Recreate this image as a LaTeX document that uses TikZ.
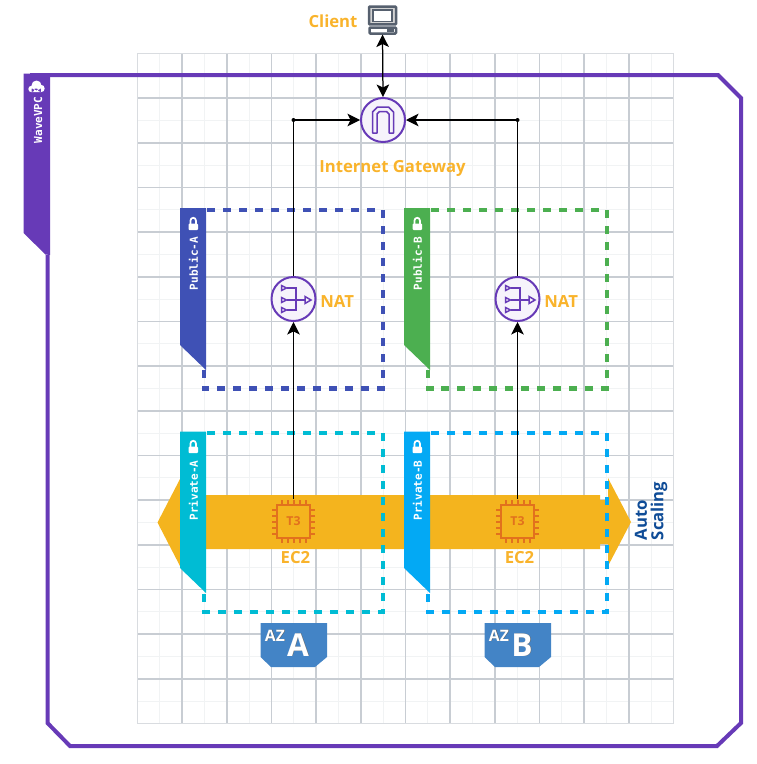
\documentclass[tikz,border=0pt]{standalone}
\usepackage{fontspec}
\setmainfont{Open Sans}
\newfontfamily\tabfont{DejaVu Sans Mono}
\usetikzlibrary{arrows.meta}
\definecolor{vpcpurple}{HTML}{673AB7}
\definecolor{pubA}{HTML}{3F51B5}
\definecolor{pubB}{HTML}{4CAF50}
\definecolor{privA}{HTML}{00BCD4}
\definecolor{privB}{HTML}{03A9F4}
\definecolor{gold}{HTML}{F4B41E}
\definecolor{labelgold}{HTML}{F9B32B}
\definecolor{chipline}{HTML}{E2711D}
\definecolor{azblue}{HTML}{4384C6}
\definecolor{scaleblue}{HTML}{0F4C97}
\definecolor{gridmajor}{HTML}{C8CDD3}
\definecolor{gridminor}{HTML}{F1F3F4}
\definecolor{roundfill}{HTML}{F6F3FB}
\definecolor{pcgrey}{HTML}{56606E}

\begin{document}
\begin{tikzpicture}[line cap=butt,line join=miter,x=0.02cm,y=-0.02cm,
	>={Stealth[length=0.25cm,width=0.25cm,inset=0.06cm]},
	conn/.style={->,line width=0.025cm,color=black},
	service/.style={circle,draw=vpcpurple,fill=roundfill,line width=0.04cm,minimum size=0.88cm,inner sep=0pt},
	chip/.style={rectangle,draw=chipline,line width=0.05cm,minimum size=0.66cm,inner sep=0pt,outer sep=0.12cm,font=\bfseries\fontsize{7}{7}\selectfont,text=chipline},
	goldlabel/.style={font=\bfseries\fontsize{9.5}{9.5}\selectfont,text=labelgold,inner sep=0pt},
	scalelabel/.style={rotate=90,anchor=west,inner sep=0pt,font=\bfseries\fontsize{9.5}{9.5}\selectfont,text=scaleblue},
	tabtext/.style={rotate=90,font=\tabfont\bfseries\fontsize{6.3}{6.3}\selectfont,text=white,inner sep=0pt},
	subnet/.style={dashed,dash pattern=on 0.16cm off 0.16cm,line width=0.085cm},
	iconline/.style={draw=vpcpurple,line width=0.03cm}]
	\useasboundingbox (0,0) rectangle (757,764);
	%%%% GRID
	\foreach \i in {0,...,24}
		\draw[color=gridminor,line width=0.02cm] ({137.5+22.333*\i},53.5) -- ({137.5+22.333*\i},723.5);
	\foreach \j in {0,...,30}
		\draw[color=gridminor,line width=0.02cm] (137.5,{53.5+22.333*\j}) -- (673.5,{53.5+22.333*\j});
	\foreach \i in {1,...,11}
		\draw[color=gridmajor,line width=0.03cm] ({137.5+44.667*\i},53.5) -- ({137.5+44.667*\i},723.5);
	\foreach \j in {1,...,14}
		\draw[color=gridmajor,line width=0.03cm] (137.5,{53.5+44.667*\j}) -- (673.5,{53.5+44.667*\j});
	\draw[color=gridmajor!70,line width=0.03cm] (137.5,53.5) rectangle (673.5,723.5);

	%%%% VPC
	\draw[color=vpcpurple,line width=0.08cm] (47.5,255) -- (47.5,723) -- (70,746) -- (717,746) -- (741,723) -- (741,98) -- (718,75) -- (30,75);
	\fill[color=vpcpurple] (23.5,73.5) -- (50,73.5) -- (50,255) -- (45.5,254.5) -- (23.5,233) -- cycle;
	\fill[white] (31.5,89) circle (3.2) (36.5,85.5) circle (5) (41,88.5) circle (3.7) (31.5,88.5) rectangle (41,92.2);
	\node[tabtext] (vpc) at (38,120) {WaveVPC};

	%%%% AUTO SCALING
	\fill[color=gold] (157.5,522.5) -- (180,479) -- (180,495) -- (600,495) -- (600,500) -- (608,500) -- (608,478) -- (631,522) -- (608,566) -- (608,544) -- (600,544) -- (600,549) -- (180,549) -- (180,566) -- cycle;
	\node[scalelabel] (auto) at (641,540.5) {Auto};
	\node[scalelabel] (scaling) at (659,540.5) {Scaling};

	%%%% SUBNETS
	\foreach \dx/\az/\colpub/\colpriv in {0/A/pubA/privA,224/B/pubB/privB}{
		\begin{scope}[shift={(\dx,0)}]
			\draw[subnet,color=\colpub] (204,370) -- (204,388.5) -- (383,388.5) -- (383,210) -- (204,210);
			\fill[color=\colpub] (180,208) -- (206,208) -- (206,370) -- (180,345) -- cycle;
			\fill[white,rounded corners=0.02cm] (188.5,223.5) rectangle (198,230);
			\draw[white,line width=0.035cm] (190.5,224) -- (190.5,220.5) arc (180:360:2.7) -- (195.9,224);
			\node[tabtext] (pub\az) at (193.5,263.5) {Public-\az};

			\draw[subnet,color=\colpriv] (204,594) -- (204,612) -- (383,612) -- (383,433) -- (204,433);
			\fill[color=\colpriv] (180,431.5) -- (206,431.5) -- (206,593) -- (180,568) -- cycle;
			\fill[white,rounded corners=0.02cm] (188.5,446.5) rectangle (198,453);
			\draw[white,line width=0.035cm] (190.5,447) -- (190.5,443.5) arc (180:360:2.7) -- (195.9,447);
			\node[tabtext] (priv\az) at (193.5,490.5) {Private-\az};

			%NAT
			\node[service] (nat\az) at (293.5,299) {};
			\node[goldlabel,anchor=west] (natlabel\az) at (320,301.5) {NAT};
			\draw[iconline] (281.5,285.5) -- (286.5,288) -- (281.5,290.5) -- cycle;
			\draw[iconline] (281.5,297.5) -- (286.5,300) -- (281.5,302.5) -- cycle;
			\draw[iconline] (281.5,307.5) -- (286.5,310) -- (281.5,312.5) -- cycle;
			\draw[iconline] (286.5,288) -- (296,288) -- (296,310) -- (286.5,310);
			\draw[iconline] (286.5,300) -- (305,300);
			\draw[iconline] (305,296.5) -- (311,300) -- (305,303.5) -- cycle;

			%EC2
			\node[chip] (ec2\az) at (293.5,521.5) {T3};
			\foreach \p in {-12,-6,0,6,12}{
				\draw[color=chipline,line width=0.04cm] (293.5+\p,505) -- (293.5+\p,500);
				\draw[color=chipline,line width=0.04cm] (293.5+\p,538) -- (293.5+\p,543);
				\draw[color=chipline,line width=0.04cm] (277,521.5+\p) -- (272,521.5+\p);
				\draw[color=chipline,line width=0.04cm] (310,521.5+\p) -- (315,521.5+\p);
			}
			\node[goldlabel] (ec2label\az) at (295.5,558) {EC2};

			%AZ
			\fill[color=azblue] (260.5,623) -- (327,623) -- (327,657) -- (315,667) -- (271,667) -- (260.5,657) -- cycle;
			\node[inner sep=0pt,font=\bfseries\fontsize{9}{9}\selectfont,text=black!70] (azshadow\az) at (275.5,636) {AZ};
			\node[inner sep=0pt,font=\bfseries\fontsize{9}{9}\selectfont,text=white] (azlabel\az) at (275,635.5) {AZ};
			\node[inner sep=0pt,font=\bfseries\fontsize{18}{18}\selectfont,text=black!60] (azbigshadow\az) at (298.5,645.5) {\az};
			\node[inner sep=0pt,font=\bfseries\fontsize{18}{18}\selectfont,text=white] (azbig\az) at (298,645) {\az};
		\end{scope}
	}

	%%%% GATEWAY
	\node[service] (gate) at (383,120) {};
	\draw[iconline,line join=round] (372.5,133) -- (372.5,112) -- (377.5,107) -- (388.5,107) -- (393.5,112) -- (393.5,133) -- (389,133) -- (389,114) -- (386.5,111.5) -- (379.5,111.5) -- (377,114) -- (377,133) -- cycle;
	\node[goldlabel] (gatelabel) at (392.5,168.5) {Internet Gateway};

	%%%% CLIENT
	\node[rectangle,draw=pcgrey,fill=gray!35,line width=0.05cm,rounded corners=0.02cm,minimum width=0.54cm,minimum height=0.36cm,inner sep=0pt] (client) at (382.5,15.5) {};
	\draw[color=pcgrey,line width=0.03cm,fill=white] (373,10) rectangle (392,21.5);
	\draw[color=pcgrey,line width=0.05cm,fill=white,rounded corners=0.02cm] (369.5,27.5) rectangle (396,33.5);
	\draw[color=pcgrey,line width=0.05cm] (387,30.5) -- (394,30.5);
	\coordinate (clientfoot) at (382.5,34.5);
	\node[goldlabel] (clientlabel) at (333,21.5) {Client};

	%%%% CONNECTORS
	\coordinate (cornerA) at (293.5,120);
	\coordinate (cornerB) at (517.5,120);
	\draw[conn,<->] (clientfoot) -- (gate.north);
	\draw[conn] (natA.north) -- (cornerA) -- (gate.west);
	\draw[conn] (natB.north) -- (cornerB) -- (gate.east);
	\draw[conn] (ec2A.north) -- (natA.south);
	\draw[conn] (ec2B.north) -- (natB.south);
	\fill[black] (cornerA) circle (2);
	\fill[black] (cornerB) circle (2);
\end{tikzpicture}
\end{document}
